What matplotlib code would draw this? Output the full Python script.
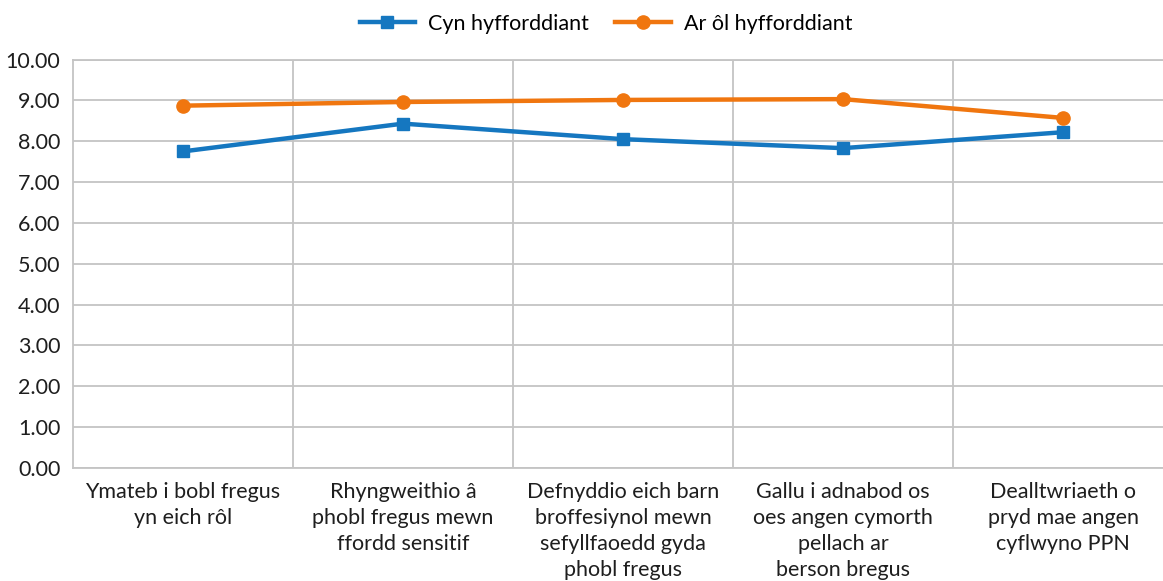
import matplotlib.pyplot as plt
from matplotlib.ticker import FixedLocator

plt.rcParams['font.family'] = ['Lato', 'DejaVu Sans']

categories = [
    'Ymateb i bobl fregus\nyn eich rôl',
    'Rhyngweithio â\nphobl fregus mewn\nffordd sensitif',
    'Defnyddio eich barn\nbroffesiynol mewn\nsefyllfaoedd gyda\nphobl fregus',
    'Gallu i adnabod os\noes angen cymorth\npellach ar\nberson bregus',
    'Dealltwriaeth o\npryd mae angen\ncyflwyno PPN',
]
cyn = [7.75, 8.43, 8.05, 7.83, 8.22]
ar_ol = [8.87, 8.96, 9.01, 9.03, 8.57]
y_ticks = [0, 1, 2, 3, 4, 5, 6, 7, 8, 9, 10]

blue = '#1577c0'
orange = '#f0760f'
grid_col = '#c4c4c4'

fig = plt.figure(figsize=(11.63, 5.81), dpi=100)
W, H = 1163, 581
ax = fig.add_axes([73 / W, 1 - 468 / H, 1100 / W, (468 - 59.5) / H])

x = list(range(len(categories)))
ax.plot(x, cyn, color=blue, lw=3.2, marker='s', ms=8.5, label='Cyn hyfforddiant')
ax.plot(x, ar_ol, color=orange, lw=3.2, marker='o', ms=9.5, label='Ar ôl hyfforddiant')

ax.set_xlim(-0.5, len(categories) - 0.5)
ax.set_ylim(0, 10)
ax.set_yticks(y_ticks)
ax.set_yticklabels(['%.2f' % v for v in y_ticks])
ax.set_xticks(x)
ax.set_xticklabels(categories, ha='center', linespacing=1.38)
ax.xaxis.set_minor_locator(FixedLocator([i + 0.5 for i in range(len(categories) - 1)]))

ax.grid(True, axis='y', which='major', color=grid_col, lw=1.3)
ax.grid(True, axis='x', which='minor', color=grid_col, lw=1.3)
ax.set_axisbelow(True)
ax.tick_params(axis='both', which='both', length=0, labelsize=15.5, colors='#1e1e1e')
ax.tick_params(axis='y', pad=9)
ax.tick_params(axis='x', pad=10)
for s in ax.spines.values():
    s.set_color(grid_col)
    s.set_linewidth(1.3)

fig.legend(loc='center', bbox_to_anchor=(606 / W, 1 - 24 / H), ncol=2, frameon=False,
           fontsize=15.5, handlelength=2.6, columnspacing=1.2, handletextpad=0.6)

fig.savefig('out.png', dpi=100)
